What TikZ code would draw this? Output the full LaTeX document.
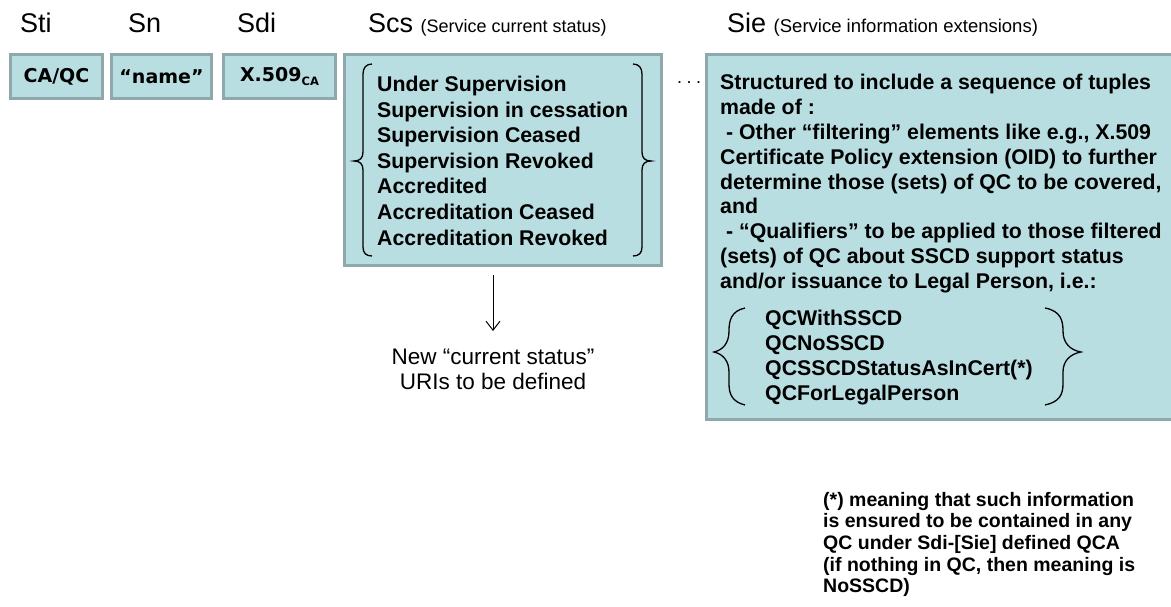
\documentclass[tikz,border=0pt]{standalone}
\usepackage{fontspec}
\setmainfont{Liberation Sans}
\newfontfamily\verd{DejaVu Sans}
\usetikzlibrary{arrows.meta}
\definecolor{boxfill}{HTML}{B9DEE2}
\definecolor{boxline}{HTML}{8EA8AB}
\begin{document}
\begin{tikzpicture}[x=1pt,y=-1pt,
  box/.style={draw=boxline,fill=boxfill,line width=3pt,inner sep=0pt},
  smalltxt/.style={font=\verd\bfseries\fontsize{19}{21}\selectfont},
  hdr/.style={anchor=base west,inner sep=0pt,font=\fontsize{27}{30}\selectfont},
  txtline/.style={anchor=base west,inner sep=0pt,font=\bfseries\fontsize{21.3}{25}\selectfont},
  noteline/.style={anchor=base west,inner sep=0pt,font=\bfseries\fontsize{19.5}{22}\selectfont},
  plain/.style={anchor=base,inner sep=0pt,font=\fontsize{22.5}{25}\selectfont},
  brace/.style={line width=1.3pt,black},
  arr/.style={line width=1pt,-{Straight Barb[length=9pt,width=14pt,line width=1pt]}}
]
\useasboundingbox (0,0) rectangle (1171,607);
% headers
\node[hdr] (hsti) at (20,33) {Sti};
\node[hdr] (hsn) at (128,33) {Sn};
\node[hdr] (hsdi) at (237,33) {Sdi};
\node[hdr] (hscs) at (368,33) {Scs {\fontsize{18}{20}\selectfont (Service current status)}};
\node[hdr] (hsie) at (727,33) {Sie {\fontsize{18.5}{20}\selectfont (Service information extensions)}};
% small boxes
\node[box,smalltxt,minimum width=92pt,minimum height=44pt] (sti) at (56.5,76.5) {CA/QC};
\node[box,smalltxt,minimum width=100pt,minimum height=44pt] (sn) at (161.5,76.5) {“name”};
\node[box,smalltxt,minimum width=112pt,minimum height=44pt] (sdi) at (279.5,76.5) {X.509\raisebox{-0.35ex}{\fontsize{11.5}{12}\selectfont CA}};
% Scs box
\node[box,minimum width=317pt,minimum height=211pt] (scs) at (503,160) {};
\foreach \t [count=\i from 0] in {{Under Supervision},{Supervision in cessation},{Supervision Ceased},{Supervision Revoked},{Accredited},{Accreditation Ceased},{Accreditation Revoked}}
  \node[txtline] (scsl\i) at (377,91.5+25.6*\i) {\t};
\draw[brace] (372,64) .. controls (366,64) and (363,68) .. (363,74) -- (363,152) .. controls (363,158) and (360,161) .. (354,161) .. controls (360,161) and (363,164) .. (363,170) -- (363,247) .. controls (363,253) and (366,256) .. (372,256);
\draw[brace] (633,64) .. controls (639,64) and (642,68) .. (642,74) -- (642,152) .. controls (642,158) and (645,161) .. (651,161) .. controls (645,161) and (642,164) .. (642,170) -- (642,247) .. controls (642,253) and (639,256) .. (633,256);
% dots
\node[anchor=base,inner sep=0pt,font=\fontsize{18}{20}\selectfont] (dots) at (689,84) {.\hspace{4.5pt}.\hspace{4.5pt}.};
% Sie box
\node[box,minimum width=474pt,minimum height=365pt] (sie) at (943.5,237) {};
\foreach \t [count=\i from 0] in {{Structured to include a sequence of tuples},{made of :},{\ - Other “filtering” elements like e.g., X.509},{Certificate Policy extension (OID) to further},{determine those (sets) of QC to be covered,},{and},{\ - “Qualifiers” to be applied to those filtered},{(sets) of QC about SSCD support status},{and/or issuance to Legal Person, i.e.:}}
  \node[txtline] (siel\i) at (720,89.5+24.9*\i) {\t};
\foreach \t [count=\i from 0] in {{QCWithSSCD},{QCNoSSCD},{QCSSCDStatusAsInCert(*)},{QCForLegalPerson}}
  \node[txtline] (qc\i) at (765,325.5+25*\i) {\t};
\draw[brace] (745,308) .. controls (731,311) and (729,321) .. (729,331) .. controls (729,343) and (723,350) .. (714,352) .. controls (723,354) and (729,361) .. (729,372) -- (729,384) .. controls (729,395) and (733,402) .. (745,405);
\draw[brace] (1045,308) .. controls (1061,311) and (1063,321) .. (1063,331) .. controls (1063,343) and (1070,350) .. (1081,352) .. controls (1070,354) and (1063,361) .. (1063,372) -- (1063,384) .. controls (1063,395) and (1059,402) .. (1045,405);
% arrow and new status text
\coordinate (a1) at (493,275);
\coordinate (a2) at (493,331);
\draw[arr] (a1) -- (a2);
\node[plain] (new1) at (493,364.5) {New “current status”};
\node[plain] (new2) at (493,389.5) {URIs to be defined};
% footnote
\foreach \t [count=\i from 0] in {{(*) meaning that such information},{is ensured to be contained in any},{QC under Sdi-[Sie] defined QCA},{(if nothing in QC, then meaning is},{NoSSCD)}}
  \node[noteline] (note\i) at (823,506+21.7*\i) {\t};
\end{tikzpicture}
\end{document}
